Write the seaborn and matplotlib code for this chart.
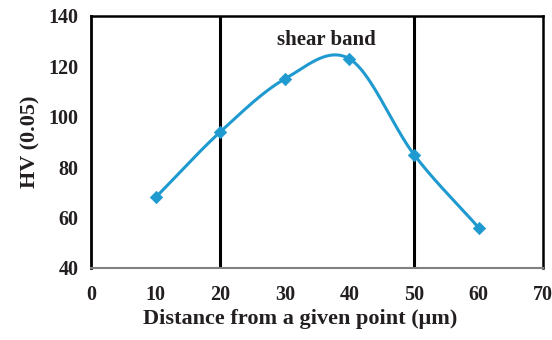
import numpy as np
import pandas as pd
import matplotlib
matplotlib.use("Agg")
import matplotlib.pyplot as plt
import seaborn as sns

distance = [10, 20, 30, 40, 50, 60]
hardness = [68, 94, 115, 123, 85, 56]
band_edges = [20, 50]
x_ticks = [0, 10, 20, 30, 40, 50, 60, 70]
y_ticks = [40, 60, 80, 100, 120, 140]

sns.set_theme(style="white")
plt.rcParams['font.family'] = ['Liberation Serif', 'DejaVu Serif']
plt.rcParams['font.weight'] = 'bold'

df = pd.DataFrame({"x": distance, "y": hardness})

# Catmull-Rom smoothing (Excel-like smoothed line)
def catmull(xs, ys, n=40):
    P = np.column_stack([xs, ys]).astype(float)
    P = np.vstack([P[0] - (P[1] - P[0]), P, P[-1] + (P[-1] - P[-2])])
    out = []
    for i in range(1, len(P) - 2):
        p0, p1, p2, p3 = P[i - 1], P[i], P[i + 1], P[i + 2]
        c1 = p1 + (p2 - p0) / 6
        c2 = p2 - (p3 - p1) / 6
        t = np.linspace(0, 1, n)[:, None]
        seg = (1 - t) ** 3 * p1 + 3 * (1 - t) ** 2 * t * c1 + 3 * (1 - t) * t ** 2 * c2 + t ** 3 * p2
        out.append(seg if i == 1 else seg[1:])
    return np.vstack(out)

curve = catmull(distance, hardness)
cdf = pd.DataFrame({"x": curve[:, 0], "y": curve[:, 1]})

fig = plt.figure(figsize=(5.52, 3.40), dpi=100)
ax = fig.add_axes([0.165, 0.212, 0.819, 0.741])

color = "#1f9ad0"
sns.lineplot(data=cdf, x="x", y="y", ax=ax, color=color, lw=2.2, sort=False, estimator=None)
sns.scatterplot(data=df, x="x", y="y", ax=ax, color=color, marker="D", s=40, edgecolor=color, zorder=3)

for b in band_edges:
    ax.axvline(b, color="black", lw=2.2, zorder=1)

ax.set_xlim(0, 70)
ax.set_ylim(40, 140)
ax.set_xticks(x_ticks)
ax.set_yticks(y_ticks)
ax.tick_params(axis='both', direction='out', length=4, width=1, color="#808080", labelsize=14.5)
ax.tick_params(axis='x', pad=8)
ax.tick_params(axis='y', pad=5)
for lab in ax.get_xticklabels() + ax.get_yticklabels():
    lab.set_fontweight('bold')
    lab.set_color('#231f20')
ax.get_xticklabels()[-1].set_x(69.7)

for s in ['top', 'right']:
    ax.spines[s].set_color('black')
    ax.spines[s].set_linewidth(1.8)
ax.spines['left'].set_color('black')
ax.spines['left'].set_linewidth(2.0)
ax.spines['bottom'].set_color('#808080')
ax.spines['bottom'].set_linewidth(1.5)

ax.set_xlabel("Distance from a given point (μm)", fontsize=16, fontweight='bold', color='#231f20')
ax.xaxis.set_label_coords(0.462, -0.165)
ax.set_ylabel("HV (0.05)", fontsize=16, fontweight='bold', color='#231f20', labelpad=6)
ax.text(36.4, 130.5, "shear band", ha='center', va='center', fontsize=15, fontweight='bold', color='#231f20')

fig.savefig("out.png", dpi=100)
